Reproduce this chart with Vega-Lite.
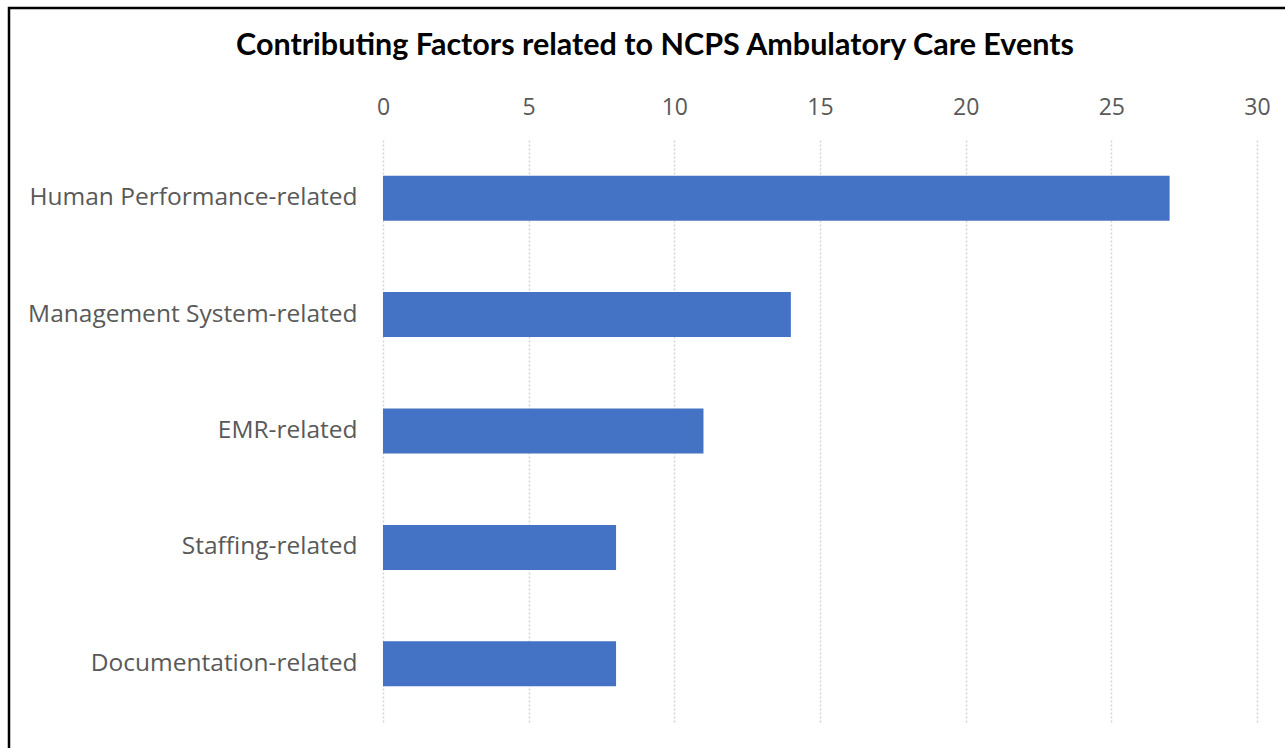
{
  "$schema": "https://vega.github.io/schema/vega-lite/v6.json",
  "autosize": {"type": "none"},
  "padding": {"left": 9, "top": 8, "right": 0, "bottom": 0},
  "width": 1276,
  "height": 740,
  "background": "white",
  "title": {
    "text": "Contributing Factors related to NCPS Ambulatory Care Events",
    "anchor": "middle",
    "frame": "group",
    "orient": "top",
    "baseline": "alphabetic",
    "offset": -77,
    "dx": 8,
    "font": "Lato",
    "fontSize": 30.5,
    "fontWeight": "bold",
    "color": "#000000"
  },
  "data": {
    "values": [
      {"factor": "Human Performance-related", "count": 27},
      {"factor": "Management System-related", "count": 14},
      {"factor": "EMR-related", "count": 11},
      {"factor": "Staffing-related", "count": 8},
      {"factor": "Documentation-related", "count": 8}
    ]
  },
  "mark": {"type": "bar", "color": "#4472C4"},
  "encoding": {
    "x": {
      "field": "count",
      "type": "quantitative",
      "scale": {"domain": [0, 30], "range": [374, 1248], "nice": false},
      "axis": {
        "orient": "top",
        "title": null,
        "values": [0, 5, 10, 15, 20, 25, 30],
        "offset": -106,
        "labelPadding": 0,
        "labelBaseline": "alphabetic",
        "labelFlush": false,
        "domain": false,
        "ticks": false,
        "grid": true,
        "gridColor": "#d4d4d4",
        "gridDash": [2, 2],
        "gridWidth": 1.5,
        "labelFont": "Open Sans",
        "labelFontSize": 23,
        "labelColor": "#595959"
      }
    },
    "y": {
      "field": "factor",
      "type": "nominal",
      "sort": null,
      "scale": {"range": [132, 714], "paddingInner": 0.613, "paddingOuter": 0.3065},
      "axis": {
        "orient": "left",
        "title": null,
        "offset": -348,
        "labelPadding": 0,
        "labelLimit": 0,
        "domain": false,
        "ticks": false,
        "grid": false,
        "labelFont": "Open Sans",
        "labelFontSize": 24.5,
        "labelColor": "#595959"
      }
    }
  },
  "config": {
    "view": {
      "stroke": "#000000",
      "strokeWidth": 2.5,
      "strokeDash": [1276, 2016, 740]
    }
  }
}
